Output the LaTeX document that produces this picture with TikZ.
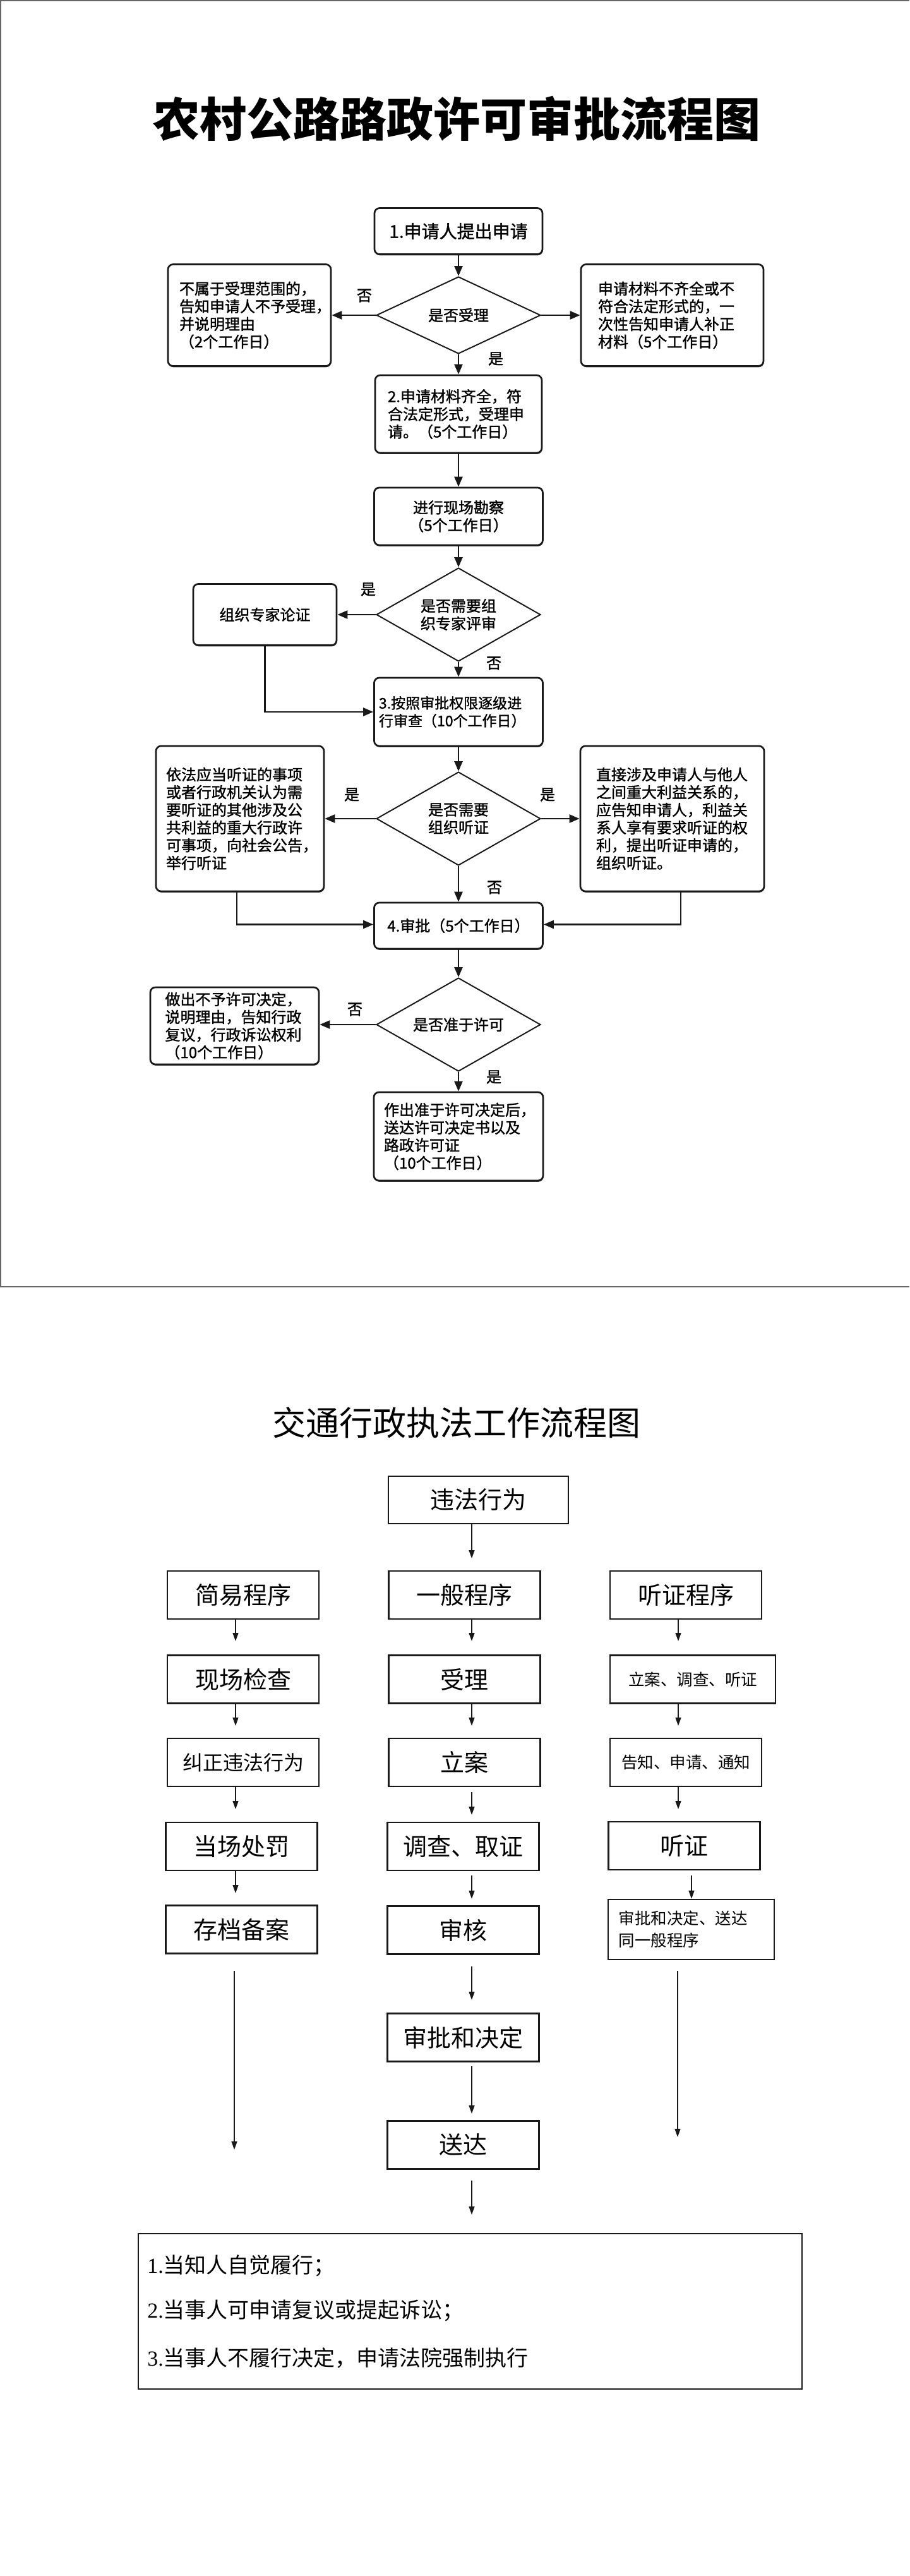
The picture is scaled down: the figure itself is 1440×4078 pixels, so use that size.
\documentclass[tikz,border=0pt]{standalone}
\usepackage{fontspec}
\newfontfamily\cjk{Noto Sans CJK SC}
\newfontfamily\cjkm{Noto Sans CJK SC}[FakeBold=1.4]
\newfontfamily\serifd{Liberation Serif}
\usetikzlibrary{shapes.geometric,arrows.meta,shadows}

\tikzset{
  pbox/.style={draw=black!90, line width=1.35pt, rounded corners=4pt, fill=white,
    inner sep=3pt, align=left, font=\cjkm\fontsize{12}{14}\selectfont,
    drop shadow={shadow xshift=0.3pt, shadow yshift=-0.9pt, fill=black!75, opacity=1}},
  dia/.style={diamond, draw=black!90, line width=1pt, aspect=2, inner sep=0pt,
    minimum width=130pt, fill=white, align=center, font=\cjkm\fontsize{12}{14}\selectfont},
  lbl/.style={inner sep=0pt, font=\cjkm\fontsize{12}{14}\selectfont},
  parr/.style={draw=black!90, line width=1.3pt, -{Triangle[length=8pt,width=6.5pt]}},
  sbox/.style={draw=black!90, line width=1.1pt, inner sep=2pt, align=center,
    minimum width=120pt, minimum height=38pt, font=\cjk\fontsize{19}{22}\selectfont},
  ssmall/.style={font=\cjk\fontsize{12.75}{17.5}\selectfont},
  sarr/.style={draw=black!90, line width=0.65pt, -{Triangle[length=6.5pt,width=4.5pt]}},
  btxt/.style={anchor=west, inner sep=0pt, font=\cjk\fontsize{17}{20}\selectfont},
  framel/.style={draw=black!60, line width=1pt}
}

\begin{document}
\begin{tikzpicture}[x=0.5pt,y=-0.5pt]
\useasboundingbox (0,0) rectangle (1440,4078);
\fill[white] (0,0) rectangle (1440,4078);

% frame of the first chart
\draw[framel] (1440,1) -- (1,1) -- (1,2037) -- (1440,2037);

% ---------------- first chart ----------------
\node[inner sep=0pt, font=\cjk\bfseries\fontsize{37}{40}\selectfont] (title1) at (723,188) {农村公路路政许可审批流程图};

\node[pbox, align=center, minimum width=133pt, minimum height=36.5pt,
      font=\cjkm\fontsize{14}{16}\selectfont] (b1) at (726,366) {1.申请人提出申请};
\node[dia, minimum height=61pt] (d1) at (726,499) {是否受理};
\node[pbox, minimum width=129pt, minimum height=80.5pt, text width=111pt] (bL1) at (395,499)
  {不属于受理范围的，\\告知申请人不予受理，\\并说明理由\\（2个工作日）};
\node[pbox, minimum width=144.5pt, minimum height=80.5pt, text width=117.5pt] (bR1) at (1064.5,499)
  {申请材料不齐全或不\\符合法定形式的，一\\次性告知申请人补正\\材料（5个工作日）};
\node[pbox, minimum width=132pt, minimum height=61.5pt, text width=112pt] (b2) at (726,655.5)
  {2.申请材料齐全，符\\合法定形式，受理申\\请。（5个工作日）};
\node[pbox, align=center, minimum width=133.5pt, minimum height=45.5pt] (b3) at (726,817.5)
  {进行现场勘察\\（5个工作日）};
\node[dia, minimum height=74pt] (d2) at (726,973) {是否需要组\\织专家评审};
\node[pbox, align=center, minimum width=113.5pt, minimum height=48.5pt] (bL2) at (419.5,973)
  {组织专家论证};
\node[pbox, minimum width=133.5pt, minimum height=54pt, text width=126pt,
      font=\cjkm\fontsize{11.5}{14}\selectfont] (b4) at (726,1127)
  {3.按照审批权限逐级进\\行审查（10个工作日）};
\node[dia, minimum height=74pt] (d3) at (726,1296) {是否需要\\组织听证};
\node[pbox, minimum width=133pt, minimum height=115pt, text width=117pt] (bL3) at (380,1296)
  {依法应当听证的事项\\或者行政机关认为需\\要听证的其他涉及公\\共利益的重大行政许\\可事项，向社会公告，\\举行听证\\[6pt]};
\node[pbox, minimum width=145.5pt, minimum height=115pt, text width=120.5pt] (bR3) at (1064.5,1296)
  {直接涉及申请人与他人\\之间重大利益关系的，\\应告知申请人，利益关\\系人享有要求听证的权\\利，提出听证申请的，\\组织听证。};
\node[pbox, align=center, minimum width=133.5pt, minimum height=36.5pt] (b5) at (726,1465.5)
  {4.审批（5个工作日）};
\node[dia, minimum height=74pt] (d4) at (726,1622) {是否准于许可};
\node[pbox, minimum width=133.5pt, minimum height=61pt, text width=110pt] (bL4) at (371.5,1624)
  {做出不予许可决定，\\说明理由，告知行政\\复议，行政诉讼权利\\（10个工作日）};
\node[pbox, minimum width=134pt, minimum height=70pt, text width=118pt] (b6) at (726,1799)
  {作出准于许可决定后，\\送达许可决定书以及\\路政许可证\\（10个工作日）};

% labels
\node[lbl] (n1) at (577,468) {否};
\node[lbl] (y1) at (785,568) {是};
\node[lbl] (y2) at (583,933) {是};
\node[lbl] (n2) at (782,1050) {否};
\node[lbl] (y3) at (557,1258) {是};
\node[lbl] (y4) at (867,1258) {是};
\node[lbl] (n3) at (783,1405) {否};
\node[lbl] (n4) at (562,1598) {否};
\node[lbl] (y5) at (782,1705) {是};

% connectors
\draw[parr] (b1.south) -- (d1.north);
\draw[parr] (d1.west) -- (bL1.east);
\draw[parr] (d1.east) -- (bR1.west);
\draw[parr] (d1.south) -- (b2.north);
\draw[parr] (b2.south) -- (b3.north);
\draw[parr] (b3.south) -- (d2.north);
\draw[parr] (d2.west) -- (bL2.east);
\draw[parr] (d2.south) -- (b4.north);
\draw[parr] (bL2.south) |- (b4.west);
\draw[parr] (b4.south) -- (d3.north);
\draw[parr] (d3.west) -- (bL3.east);
\draw[parr] (d3.east) -- (bR3.west);
\draw[parr] (d3.south) -- (b5.north);
\draw[parr] ([xshift=-2.5pt]bL3.south) |- ([yshift=1pt]b5.west);
\draw[parr] ([xshift=6.75pt]bR3.south) |- ([yshift=1pt]b5.east);
\draw[parr] (b5.south) -- (d4.north);
\draw[parr] (d4.west) -- (bL4.east |- d4.west);
\draw[parr] (d4.south) -- (b6.north);

% ---------------- second chart ----------------
\node[inner sep=0pt, font=\cjk\fontsize{26.5}{30}\selectfont] (title2) at (723,2252) {交通行政执法工作流程图};

\node[sbox, minimum width=142.5pt, minimum height=37.5pt] (v) at (757.5,2374.5) {违法行为};

\node[sbox] (L1) at (385,2525) {简易程序};
\node[sbox] (M1) at (735.5,2525) {一般程序};
\node[sbox] (R1) at (1086,2525) {听证程序};

\node[sbox] (L2) at (385,2658.5) {现场检查};
\node[sbox] (M2) at (735.5,2658.5) {受理};
\node[sbox, ssmall, minimum width=131pt] (R2) at (1097,2658.5) {立案、调查、听证};

\node[sbox, font=\cjk\fontsize{16}{19}\selectfont] (L3) at (385,2790) {纠正违法行为};
\node[sbox] (M3) at (735.5,2790) {立案};
\node[sbox, ssmall] (R3) at (1086,2790) {告知、申请、通知};

\node[sbox] (L4) at (382.5,2923) {当场处罚};
\node[sbox] (M4) at (733.5,2923) {调查、取证};
\node[sbox] (R4) at (1083.5,2922) {听证};

\node[sbox] (L5) at (382.5,3054.5) {存档备案};
\node[sbox] (M5) at (733.5,3055.5) {审核};
\node[sbox, ssmall, minimum width=131.5pt, minimum height=47.5pt, text width=115pt, align=left] (R5) at (1094.5,3054.5)
  {审批和决定、送达\\同一般程序};

\node[sbox] (M6) at (733.5,3225.5) {审批和决定};
\node[sbox] (M7) at (733.5,3395.5) {送达};

\node[draw=black!90, line width=1pt, minimum width=525.5pt, minimum height=123pt, inner sep=0pt] (big) at (744.5,3659) {};
\node[btxt] (t1) at (233,3587) {{\serifd 1.}当知人自觉履行；};
\node[btxt] (t2) at (233,3658) {{\serifd 2.}当事人可申请复议或提起诉讼；};
\node[btxt] (t3) at (233,3733) {{\serifd 3.}当事人不履行决定，申请法院强制执行};

% free arrow ends
\coordinate (e0) at (747,2467);
\coordinate (eL1) at (373,2598);
\coordinate (eL2) at (373,2732);
\coordinate (eL3) at (373,2864);
\coordinate (eL4) at (373,2997);
\coordinate (sL5) at (371,3120);
\coordinate (eL5) at (371,3403);
\coordinate (eM1) at (747,2598);
\coordinate (eM2) at (747,2732);
\coordinate (sM3) at (747,2837);
\coordinate (eM3) at (747,2873);
\coordinate (sM4) at (747,2969);
\coordinate (eM4) at (747,3006);
\coordinate (sM5) at (747,3113);
\coordinate (eM5) at (747,3166);
\coordinate (sM6) at (747,3271);
\coordinate (eM6) at (747,3346);
\coordinate (sM7) at (747,3452);
\coordinate (eM7) at (747,3506);
\coordinate (eR1) at (1074,2598);
\coordinate (eR2) at (1074,2732);
\coordinate (eR3) at (1074,2864);
\coordinate (sR4) at (1095,2969);
\coordinate (sR5) at (1073,3120);
\coordinate (eR5) at (1073,3383);

\draw[sarr] ([xshift=-5.25pt]v.south) -- (e0);
\draw[sarr] ([xshift=-6pt]L1.south) -- (eL1);
\draw[sarr] ([xshift=-6pt]L2.south) -- (eL2);
\draw[sarr] ([xshift=-6pt]L3.south) -- (eL3);
\draw[sarr] ([xshift=-4.75pt]L4.south) -- (eL4);
\draw[sarr] (sL5) -- (eL5);
\draw[sarr] ([xshift=5.75pt]M1.south) -- (eM1);
\draw[sarr] ([xshift=5.75pt]M2.south) -- (eM2);
\draw[sarr] (sM3) -- (eM3);
\draw[sarr] (sM4) -- (eM4);
\draw[sarr] (sM5) -- (eM5);
\draw[sarr] (sM6) -- (eM6);
\draw[sarr] (sM7) -- (eM7);
\draw[sarr] ([xshift=-6pt]R1.south) -- (eR1);
\draw[sarr] ([xshift=-11.5pt]R2.south) -- (eR2);
\draw[sarr] ([xshift=-6pt]R3.south) -- (eR3);
\draw[sarr] (sR4) -- (sR4 |- R5.north);
\draw[sarr] (sR5) -- (eR5);
\end{tikzpicture}
\end{document}
